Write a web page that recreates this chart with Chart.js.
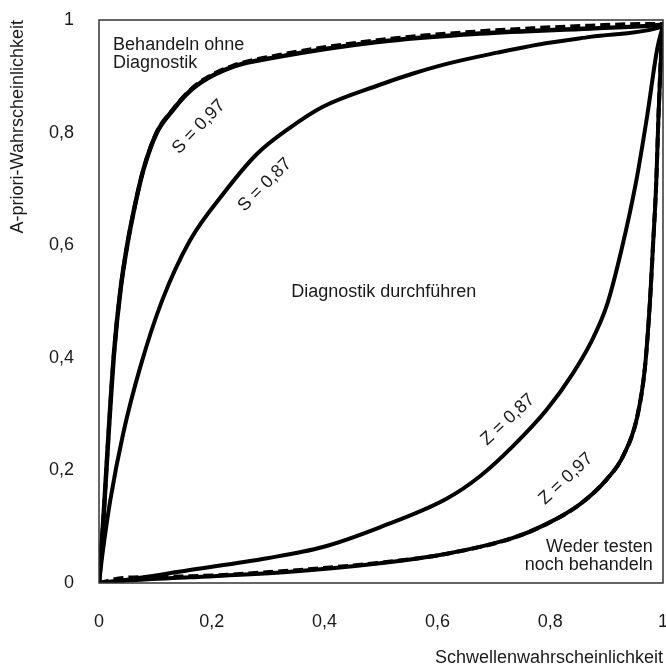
<!DOCTYPE html>
<html>
<head>
<meta charset="utf-8">
<script src="https://cdn.jsdelivr.net/npm/chart.js@4"></script>
<style>
  html, body { margin: 0; background: #fff; overflow: hidden; }
  #wrap { width: 666px; height: 670px; }
</style>
</head>
<body>
<div id="wrap"><canvas id="myChart"></canvas></div>
<script>
// Schwellenwahrscheinlichkeit (x) gegen A-priori-Wahrscheinlichkeit (y)
const s97X = [0, 0.008, 0.017, 0.027, 0.038, 0.050, 0.064, 0.079, 0.102, 0.131, 0.155, 0.179, 0.238, 0.315, 0.493, 0.676, 0.871, 0.980, 1];
const s97Y = [0, 0.117, 0.266, 0.413, 0.520, 0.600, 0.672, 0.735, 0.799, 0.840, 0.868, 0.888, 0.917, 0.934, 0.961, 0.976, 0.985, 0.990, 0.992];

const s97DashX = [0, 0.008, 0.017, 0.027, 0.038, 0.050, 0.064, 0.079, 0.102, 0.131, 0.155, 0.179, 0.238, 0.315, 0.493, 0.676, 0.782, 0.871, 0.977, 1];
const s97DashY = [0, 0.117, 0.266, 0.413, 0.520, 0.600, 0.672, 0.735, 0.800, 0.841, 0.869, 0.890, 0.919, 0.937, 0.964, 0.980, 0.986, 0.990, 0.993, 0.993];

const s87X = [0, 0.007, 0.020, 0.043, 0.073, 0.112, 0.161, 0.220, 0.280, 0.339, 0.397, 0.498, 0.557, 0.620, 0.706, 0.782, 0.871, 0.991, 1];
const s87Y = [0, 0.058, 0.147, 0.266, 0.383, 0.502, 0.608, 0.691, 0.762, 0.809, 0.846, 0.885, 0.905, 0.923, 0.942, 0.957, 0.970, 0.986, 0.990];

const z87X = [0, 0.043, 0.161, 0.298, 0.397, 0.498, 0.617, 0.676, 0.734, 0.794, 0.840, 0.871, 0.901, 0.926, 0.952, 0.972, 0.990, 1];
const z87Y = [0, 0.005, 0.023, 0.044, 0.064, 0.099, 0.150, 0.190, 0.243, 0.308, 0.372, 0.425, 0.495, 0.590, 0.711, 0.830, 0.950, 0.990];

const z97X = [0, 0.043, 0.161, 0.339, 0.498, 0.617, 0.734, 0.794, 0.853, 0.901, 0.929, 0.954, 0.968, 0.977, 0.982, 0.988, 0.992, 0.997, 1];
const z97Y = [0, 0.004, 0.010, 0.020, 0.035, 0.052, 0.080, 0.105, 0.140, 0.185, 0.225, 0.294, 0.383, 0.502, 0.594, 0.711, 0.830, 0.949, 0.990];

const z97DashX = [0, 0.043, 0.161, 0.339, 0.498, 0.617, 0.734, 0.794, 0.853, 0.901, 0.929, 0.954, 0.968, 0.977, 0.982, 0.988, 0.992, 0.997, 1];
const z97DashY = [0, 0.009, 0.012, 0.022, 0.036, 0.052, 0.080, 0.105, 0.140, 0.185, 0.225, 0.294, 0.383, 0.502, 0.594, 0.711, 0.830, 0.949, 0.990];

const tickLabels = ['0', '0,2', '0,4', '0,6', '0,8', '1'];

// Beschriftungen im Diagramm (Lage in Datenkoordinaten)
const regionTexts = [
  { text: 'Behandeln ohne', x: 0.025, y: 0.947, align: 'left' },
  { text: 'Diagnostik', x: 0.025, y: 0.915, align: 'left' },
  { text: 'Diagnostik durchführen', x: 0.505, y: 0.508, align: 'center' },
  { text: 'Weder testen', x: 0.982, y: 0.055, align: 'right' },
  { text: 'noch behandeln', x: 0.982, y: 0.023, align: 'right' }
];
const curveTexts = [
  { text: 'S = 0,97', x: 0.177, y: 0.810, angle: -46 },
  { text: 'S = 0,87', x: 0.294, y: 0.707, angle: -45 },
  { text: 'Z = 0,87', x: 0.725, y: 0.290, angle: -43 },
  { text: 'Z = 0,97', x: 0.828, y: 0.185, angle: -43 }
];

const FONT = '"Liberation Sans", Arial, sans-serif';
const INK = '#1a1a1a';

const toPoints = (xs, ys) => xs.map((x, i) => ({ x: x, y: ys[i] }));

const linie = (xs, ys, width, dash) => ({
  data: toPoints(xs, ys),
  showLine: true,
  borderColor: '#000',
  borderWidth: width,
  borderDash: dash || [],
  pointRadius: 0,
  cubicInterpolationMode: 'monotone',
  fill: false
});

const beschriftung = {
  id: 'beschriftung',
  afterDatasetsDraw(chart) {
    const ctx = chart.ctx;
    const xs = chart.scales.x;
    const ys = chart.scales.y;
    const area = chart.chartArea;

    ctx.save();
    ctx.strokeStyle = '#333';
    ctx.lineWidth = 1.5;
    ctx.strokeRect(area.left, area.top, area.right - area.left, area.bottom - area.top);

    ctx.fillStyle = INK;
    ctx.font = '18px ' + FONT;
    ctx.textBaseline = 'alphabetic';
    regionTexts.forEach(t => {
      ctx.textAlign = t.align;
      ctx.fillText(t.text, xs.getPixelForValue(t.x), ys.getPixelForValue(t.y));
    });

    ctx.textAlign = 'center';
    ctx.textBaseline = 'middle';
    curveTexts.forEach(t => {
      ctx.save();
      ctx.translate(xs.getPixelForValue(t.x), ys.getPixelForValue(t.y));
      ctx.rotate(t.angle * Math.PI / 180);
      ctx.fillText(t.text, 0, 0);
      ctx.restore();
    });
    ctx.restore();
  }
};

const ctx = document.getElementById('myChart').getContext('2d');

new Chart(ctx, {
  type: 'scatter',
  data: {
    datasets: [
      linie(s97DashX, s97DashY, 4, [10, 5]),
      linie(s97X, s97Y, 4.5),
      linie(s87X, s87Y, 4),
      linie(z87X, z87Y, 4),
      linie(z97X, z97Y, 4),
      linie(z97DashX, z97DashY, 4, [10, 5])
    ]
  },
  options: {
    responsive: true,
    maintainAspectRatio: false,
    animation: false,
    layout: { padding: { top: 20, right: 3, left: 0, bottom: 0 } },
    plugins: {
      legend: { display: false },
      tooltip: { enabled: false }
    },
    scales: {
      x: {
        type: 'linear',
        min: 0,
        max: 1,
        grid: { display: false, drawTicks: false },
        border: { display: false },
        ticks: {
          stepSize: 0.2,
          padding: 28,
          color: INK,
          font: { family: FONT, size: 18 },
          callback: (v, i) => tickLabels[i]
        },
        title: {
          display: true,
          text: 'Schwellenwahrscheinlichkeit',
          align: 'end',
          color: INK,
          font: { family: FONT, size: 18 },
          padding: { top: 0, bottom: 1 }
        },
        afterFit: s => {
          s.height = 87;
          s.paddingLeft = 0;
          s.paddingRight = 0;
        }
      },
      y: {
        type: 'linear',
        min: 0,
        max: 1,
        grid: { display: false, drawTicks: false },
        border: { display: false },
        ticks: {
          stepSize: 0.2,
          padding: 25,
          color: INK,
          font: { family: FONT, size: 18 },
          callback: (v, i) => tickLabels[i]
        },
        title: {
          display: true,
          text: 'A-priori-Wahrscheinlichkeit',
          align: 'end',
          color: INK,
          font: { family: FONT, size: 18 },
          padding: { top: 7, bottom: 0 }
        },
        afterFit: s => {
          s.width = 99;
          s.paddingTop = 0;
          s.paddingBottom = 0;
        }
      }
    }
  },
  plugins: [beschriftung]
});
</script>
</body>
</html>
